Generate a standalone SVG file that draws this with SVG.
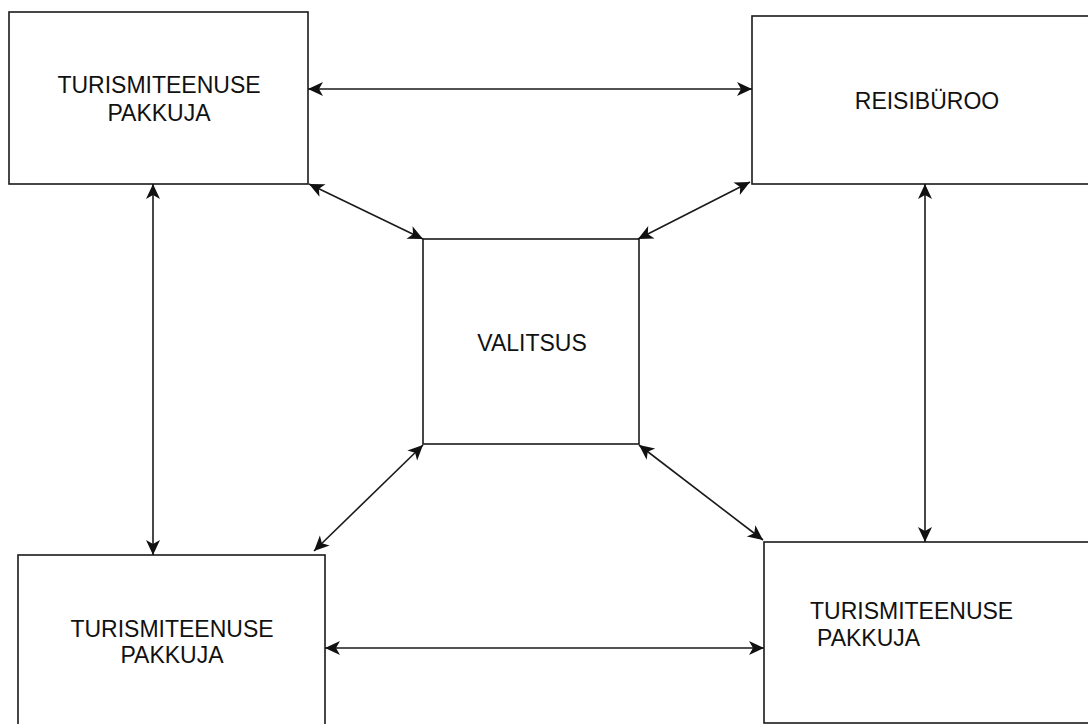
<svg xmlns="http://www.w3.org/2000/svg" width="1088" height="724" viewBox="0 0 1088 724">
  <style>
    .box { fill: #ffffff; stroke: #1a1a1a; stroke-width: 1.6; }
    .lbl { font-family: "Liberation Sans", Arial, Helvetica, sans-serif; font-size: 23px; fill: #111111; }
    .edge { fill: none; stroke: #1a1a1a; stroke-width: 1.6; marker-start: url(#arrow); marker-end: url(#arrow); }
  </style>
  <defs>
    <marker id="arrow" markerUnits="userSpaceOnUse" viewBox="-17 -9 18 18" refX="0" refY="0" markerWidth="18" markerHeight="18" orient="auto-start-reverse">
      <path d="M0,0 L-15,-7 L-11,0 L-15,7 Z" fill="#111111"/>
    </marker>
  </defs>
  <rect width="1088" height="724" fill="#ffffff"/>

  <g id="provider-top-left">
    <rect class="box" x="9" y="12" width="299" height="172"/>
    <text class="lbl" x="159" y="93" text-anchor="middle">TURISMITEENUSE</text>
    <text class="lbl" x="159" y="121" text-anchor="middle">PAKKUJA</text>
  </g>

  <g id="travel-agency">
    <rect class="box" x="752" y="16" width="345" height="168"/>
    <text class="lbl" x="927" y="109" text-anchor="middle">REISIBÜROO</text>
  </g>

  <g id="government">
    <rect class="box" x="423" y="239" width="216" height="205"/>
    <text class="lbl" x="532" y="351" text-anchor="middle">VALITSUS</text>
  </g>

  <g id="provider-bottom-left">
    <rect class="box" x="18" y="555" width="307" height="180"/>
    <text class="lbl" x="172" y="637" text-anchor="middle">TURISMITEENUSE</text>
    <text class="lbl" x="172" y="663" text-anchor="middle">PAKKUJA</text>
  </g>

  <g id="provider-bottom-right">
    <rect class="box" x="764" y="542" width="340" height="181"/>
    <text class="lbl" x="810" y="619">TURISMITEENUSE</text>
    <text class="lbl" x="817" y="646">PAKKUJA</text>
  </g>

  <g id="connectors">
    <line class="edge" x1="308" y1="89" x2="752" y2="89"/>
    <line class="edge" x1="325" y1="648" x2="764" y2="648"/>
    <line class="edge" x1="153" y1="184" x2="153" y2="555"/>
    <line class="edge" x1="925" y1="184" x2="925" y2="542"/>
    <line class="edge" x1="309" y1="184" x2="423" y2="239"/>
    <line class="edge" x1="750" y1="182" x2="638" y2="239"/>
    <line class="edge" x1="423" y1="445" x2="314" y2="551"/>
    <line class="edge" x1="639" y1="445" x2="763" y2="540"/>
  </g>
</svg>
